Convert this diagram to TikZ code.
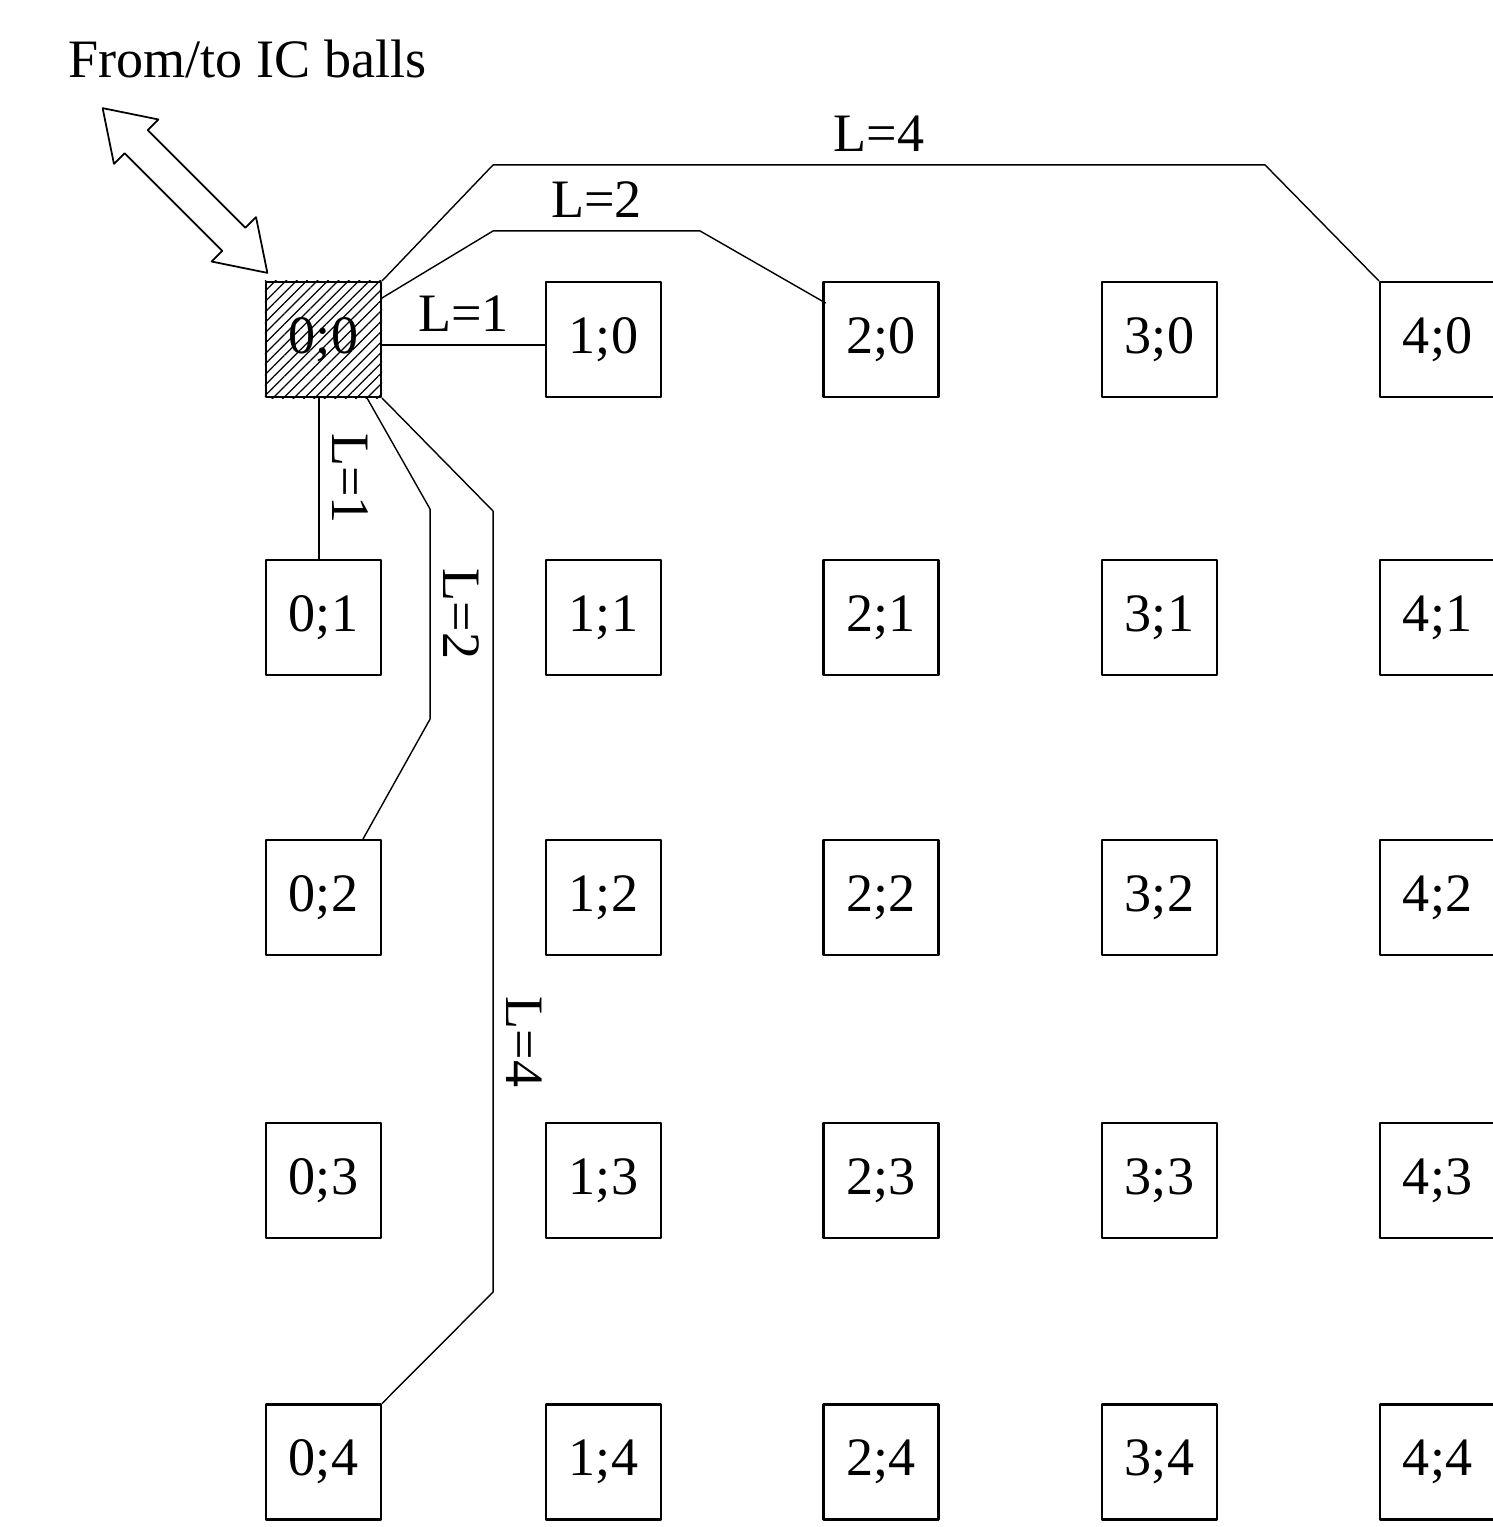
\documentclass[tikz,border=0pt]{standalone}
\usepackage{fontspec}
\setmainfont{Liberation Serif}
\usepackage{tikz}
\usetikzlibrary{calc, patterns.meta, shapes.arrows, positioning}
\newcommand{\chipfont}{\fontsize{15.4}{18}\selectfont}
\tikzset{
	chip/.style={draw, line width=0.6pt, minimum size=1.15cm, inner sep=0pt},
	wire/.style={line width=0.4pt},
	vlab/.style={midway, anchor=south, rotate=-90, inner sep=3.5pt},
	hlab/.style={midway, above, inner sep=3.5pt}
}

\begin{document}
\begin{tikzpicture}[line cap=round, line join=round, font=\chipfont, scale=1]
	\useasboundingbox (0,0) rectangle (14.92,-15.27);
	% grid of chips
	\foreach \i/\x in {0/3.235, 1/6.035, 2/8.81, 3/11.595, 4/14.375}
		\foreach \j/\y in {0/-3.395, 1/-6.175, 2/-8.975, 3/-11.805, 4/-14.62}
			\node[chip] (n\i\j) at (\x,\y) {\i;\j};
	\fill[pattern={Lines[angle=45, distance=2.1pt, line width=0.35pt]}]
		(n00.south west) rectangle (n00.north east);

	% from/to the balls
	\node[anchor=base] (title) at (2.475,-0.77) {From/to IC balls};
	\node[double arrow, draw, fill=white, line width=0.5pt, rotate=-45, minimum height=2.33cm,
		minimum width=0.615cm, double arrow head extend=0.15cm, double arrow tip angle=67,
		inner xsep=0pt, inner ysep=0.155cm] (io) at (1.85,-1.905) {};

	% links of length L=1
	\draw[wire] ($(n00.east)+(0,-0.055)$) -- node[hlab] {L=1} ($(n10.west)+(0,-0.055)$);
	\draw[wire] ($(n00.south)+(-0.045,0)$) -- node[vlab] {L=1} ($(n01.north)+(-0.045,0)$);

	% links of length L=2
	\draw[wire] ($(n00.north east)+(0,-0.17)$) -- ++(1.11,0.67) -- node[hlab] {L=2} ++(2.07,0)
		-- ($(n20.north west)+(0.03,-0.22)$);
	\draw[wire] ($(n00.south east)+(-0.15,0)$) -- ++(0.63,-1.11) -- node[vlab] {L=2} ++(0,-2.10)
		-- ($(n02.north east)+(-0.19,0)$);

	% links of length L=4
	\draw[wire] (n00.north east) -- ++(1.11,1.16) -- node[hlab] {L=4} ++(7.72,0) -- (n40.north west);
	\draw[wire] (n00.south east) -- ++(1.11,-1.13) -- node[vlab, pos=0.68] {L=4} ++(0,-7.81)
		-- (n04.north east);
\end{tikzpicture}
\end{document}
